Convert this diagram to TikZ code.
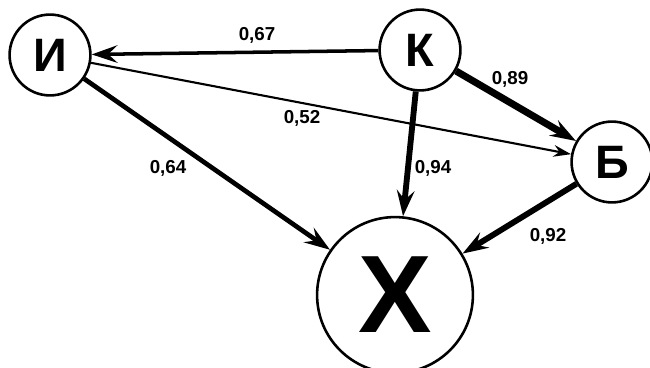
\documentclass[tikz,border=0pt]{standalone}
\usepackage{fontspec}
\setmainfont{Liberation Sans}
\usetikzlibrary{arrows.meta}

\tikzset{
  vertex/.style={draw,circle,line width=2.2pt,minimum size=69pt,inner sep=0pt,
    font=\fontsize{40}{42}\selectfont\bfseries},
  bigvertex/.style={vertex,minimum size=133pt,font=\fontsize{94}{96}\selectfont\bfseries},
  weight/.style={font=\fontsize{16}{17}\selectfont\bfseries},
  link/.style={-{Stealth[length=22pt,width=15pt,inset=8pt]}},
  thinlink/.style={-{Stealth[length=15pt,width=10pt,inset=5pt]},line width=1.8pt}
}

\begin{document}
\begin{tikzpicture}[x=0.03cm,y=-0.03cm]
  \useasboundingbox (0,0) rectangle (650,367);
  \node[vertex] (I) at (50,55) {И};
  \node[vertex] (K) at (420,50) {К};
  \node[vertex] (B) at (612,162) {Б};
  \node[bigvertex] (X) at (395,295) {Х};
  \draw[link,line width=3pt] (K) -- (I);
  \draw[thinlink] (I) -- (B);
  \draw[link,line width=4pt] (I) -- (X);
  \draw[link,line width=6pt] (K) -- (B);
  \draw[link,line width=5pt] (K) -- (X);
  \draw[link,line width=5pt] (B) -- (X);
  \node[weight] (w67) at (257,35) {0,67};
  \node[weight] (w52) at (302,118) {0,52};
  \node[weight] (w64) at (168,168) {0,64};
  \node[weight] (w89) at (510,79) {0,89};
  \node[weight] (w94) at (433,168) {0,94};
  \node[weight] (w92) at (548,236) {0,92};
\end{tikzpicture}
\end{document}
